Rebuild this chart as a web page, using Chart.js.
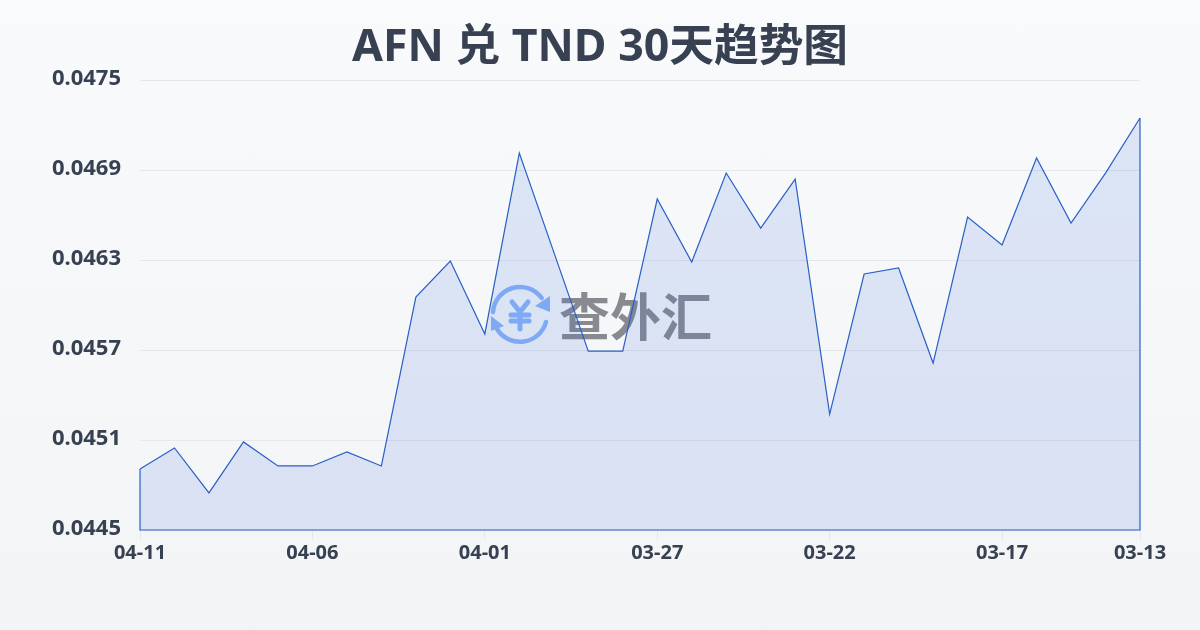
<!DOCTYPE html>
<html>
<head>
<meta charset="utf-8">
<style>
html, body { margin: 0; padding: 0; }
body { width: 1200px; height: 630px; overflow: hidden; position: relative; background: linear-gradient(180deg, #f8fafc, #f3f4f6); }
#mark { position: absolute; left: 488px; top: 283px; width: 240px; height: 64px; }
#mark svg { position: absolute; left: 0; top: 0; }
#mark span { position: absolute; left: 71px; top: -1px; font: 700 51px/64px "Noto Sans CJK SC"; color: #888a90; white-space: nowrap; }
#chart { position: absolute; left: 0; top: 0; }
</style>
</head>
<body>
<div id="mark">
  <svg width="64" height="64" viewBox="0 0 64 64" fill="none" stroke="#8ab4f8" stroke-width="4.5" stroke-linecap="round">
    <path d="M5 29 A27 27 0 0 1 53.7 15"/>
    <path d="M58 39 A27 27 0 0 1 9 46"/>
    <path d="M62 13 L62 29 L47 23 Z" fill="#8ab4f8" stroke="none"/>
    <path d="M3 33 L3 48 L16 43 Z" fill="#8ab4f8" stroke="none"/>
    <path d="M24 19 L32 29 L40 19 M32 29 V46 M23 32 H41 M23 38 H41" stroke-width="5"/>
  </svg>
  <span>查外汇</span>
</div>
<canvas id="chart" width="1200" height="630"></canvas>
<script src="https://cdn.jsdelivr.net/npm/chart.js@4/dist/chart.umd.min.js"></script>
<script>
// Datos
const categories = ['04-11','04-10','04-09','04-08','04-07','04-06','04-05','04-04','04-03','04-02',
    '04-01','03-31','03-30','03-29','03-28','03-27','03-26','03-25','03-24','03-23',
    '03-22','03-21','03-20','03-19','03-18','03-17','03-16','03-15','03-14','03-13'];
const rates = [0.044907,0.045047,0.044747,0.045087,0.044927,0.044927,0.04502,0.044927,0.046053,0.046293,
    0.045807,0.047013,0.046353,0.045693,0.045693,0.046707,0.046287,0.04688,0.046513,0.04684,
    0.045273,0.046207,0.046247,0.045613,0.046587,0.0464,0.04698,0.046547,0.04688,0.047247];
const xTickLabels = ['04-11','04-06','04-01','03-27','03-22','03-17','03-13'];
const yTickValues = [0.0445,0.0451,0.0457,0.0463,0.0469,0.0475];

const lineColor = '#2a5fc6';
const textColor = '#374151';
const fontFamily = '"Noto Sans", "Noto Sans CJK SC"';

// Cierra el area: lados y base con el mismo color de la linea
const closeArea = {
    id: 'closeArea',
    afterDatasetsDraw(chart) {
        const { ctx, scales: { x, y } } = chart;
        const base = y.getPixelForValue(yTickValues[0]);
        const last = rates.length - 1;
        ctx.save();
        ctx.strokeStyle = lineColor;
        ctx.lineWidth = 1.2;
        ctx.beginPath();
        ctx.moveTo(x.getPixelForValue(0), y.getPixelForValue(rates[0]));
        ctx.lineTo(x.getPixelForValue(0), base);
        ctx.lineTo(x.getPixelForValue(last), base);
        ctx.lineTo(x.getPixelForValue(last), y.getPixelForValue(rates[last]));
        ctx.stroke();
        ctx.restore();
    }
};

new Chart(document.getElementById('chart'), {
    type: 'line',
    data: {
        labels: categories,
        datasets: [{
            data: rates,
            borderColor: lineColor,
            borderWidth: 1.2,
            backgroundColor: 'rgba(55, 105, 220, 0.14)',
            fill: 'start',
            tension: 0,
            pointRadius: 0
        }]
    },
    options: {
        responsive: false,
        animation: false,
        plugins: {
            legend: { display: false },
            tooltip: { enabled: false },
            title: {
                display: true,
                text: 'AFN 兑 TND 30天趋势图',
                color: textColor,
                font: { family: fontFamily, size: 44.7, weight: 'bold', lineHeight: 1.2 },
                padding: { top: 21, bottom: 5.42 }
            }
        },
        scales: {
            x: {
                afterFit(scale) { scale.height = 100; },
                offset: false,
                border: { display: false },
                grid: { drawOnChartArea: false, drawTicks: true, tickLength: 10, color: '#e5e7eb' },
                ticks: {
                    autoSkip: false,
                    maxRotation: 0,
                    padding: 1,
                    color: textColor,
                    font: { family: fontFamily, size: 20, weight: 'bold' },
                    callback(value) {
                        const label = this.getLabelForValue(value);
                        return xTickLabels.includes(label) ? label : null;
                    }
                }
            },
            y: {
                min: yTickValues[0],
                max: yTickValues[yTickValues.length - 1],
                afterFit(scale) { scale.width = 140; },
                afterBuildTicks(scale) { scale.ticks = yTickValues.map(value => ({ value })); },
                border: { display: false },
                grid: { drawTicks: false, color: '#e5e7eb' },
                ticks: {
                    padding: 19,
                    labelOffset: -1,
                    color: textColor,
                    font: { family: fontFamily, size: 22, weight: 'bold' },
                    callback: value => value.toFixed(4)
                }
            },
            // Eje vacio: reserva el margen derecho sin descentrar el titulo
            rightGap: {
                position: 'right',
                afterFit(scale) { scale.width = 60; },
                border: { display: false },
                grid: { display: false },
                ticks: { display: false }
            }
        }
    },
    plugins: [closeArea]
});
</script>
</body>
</html>
